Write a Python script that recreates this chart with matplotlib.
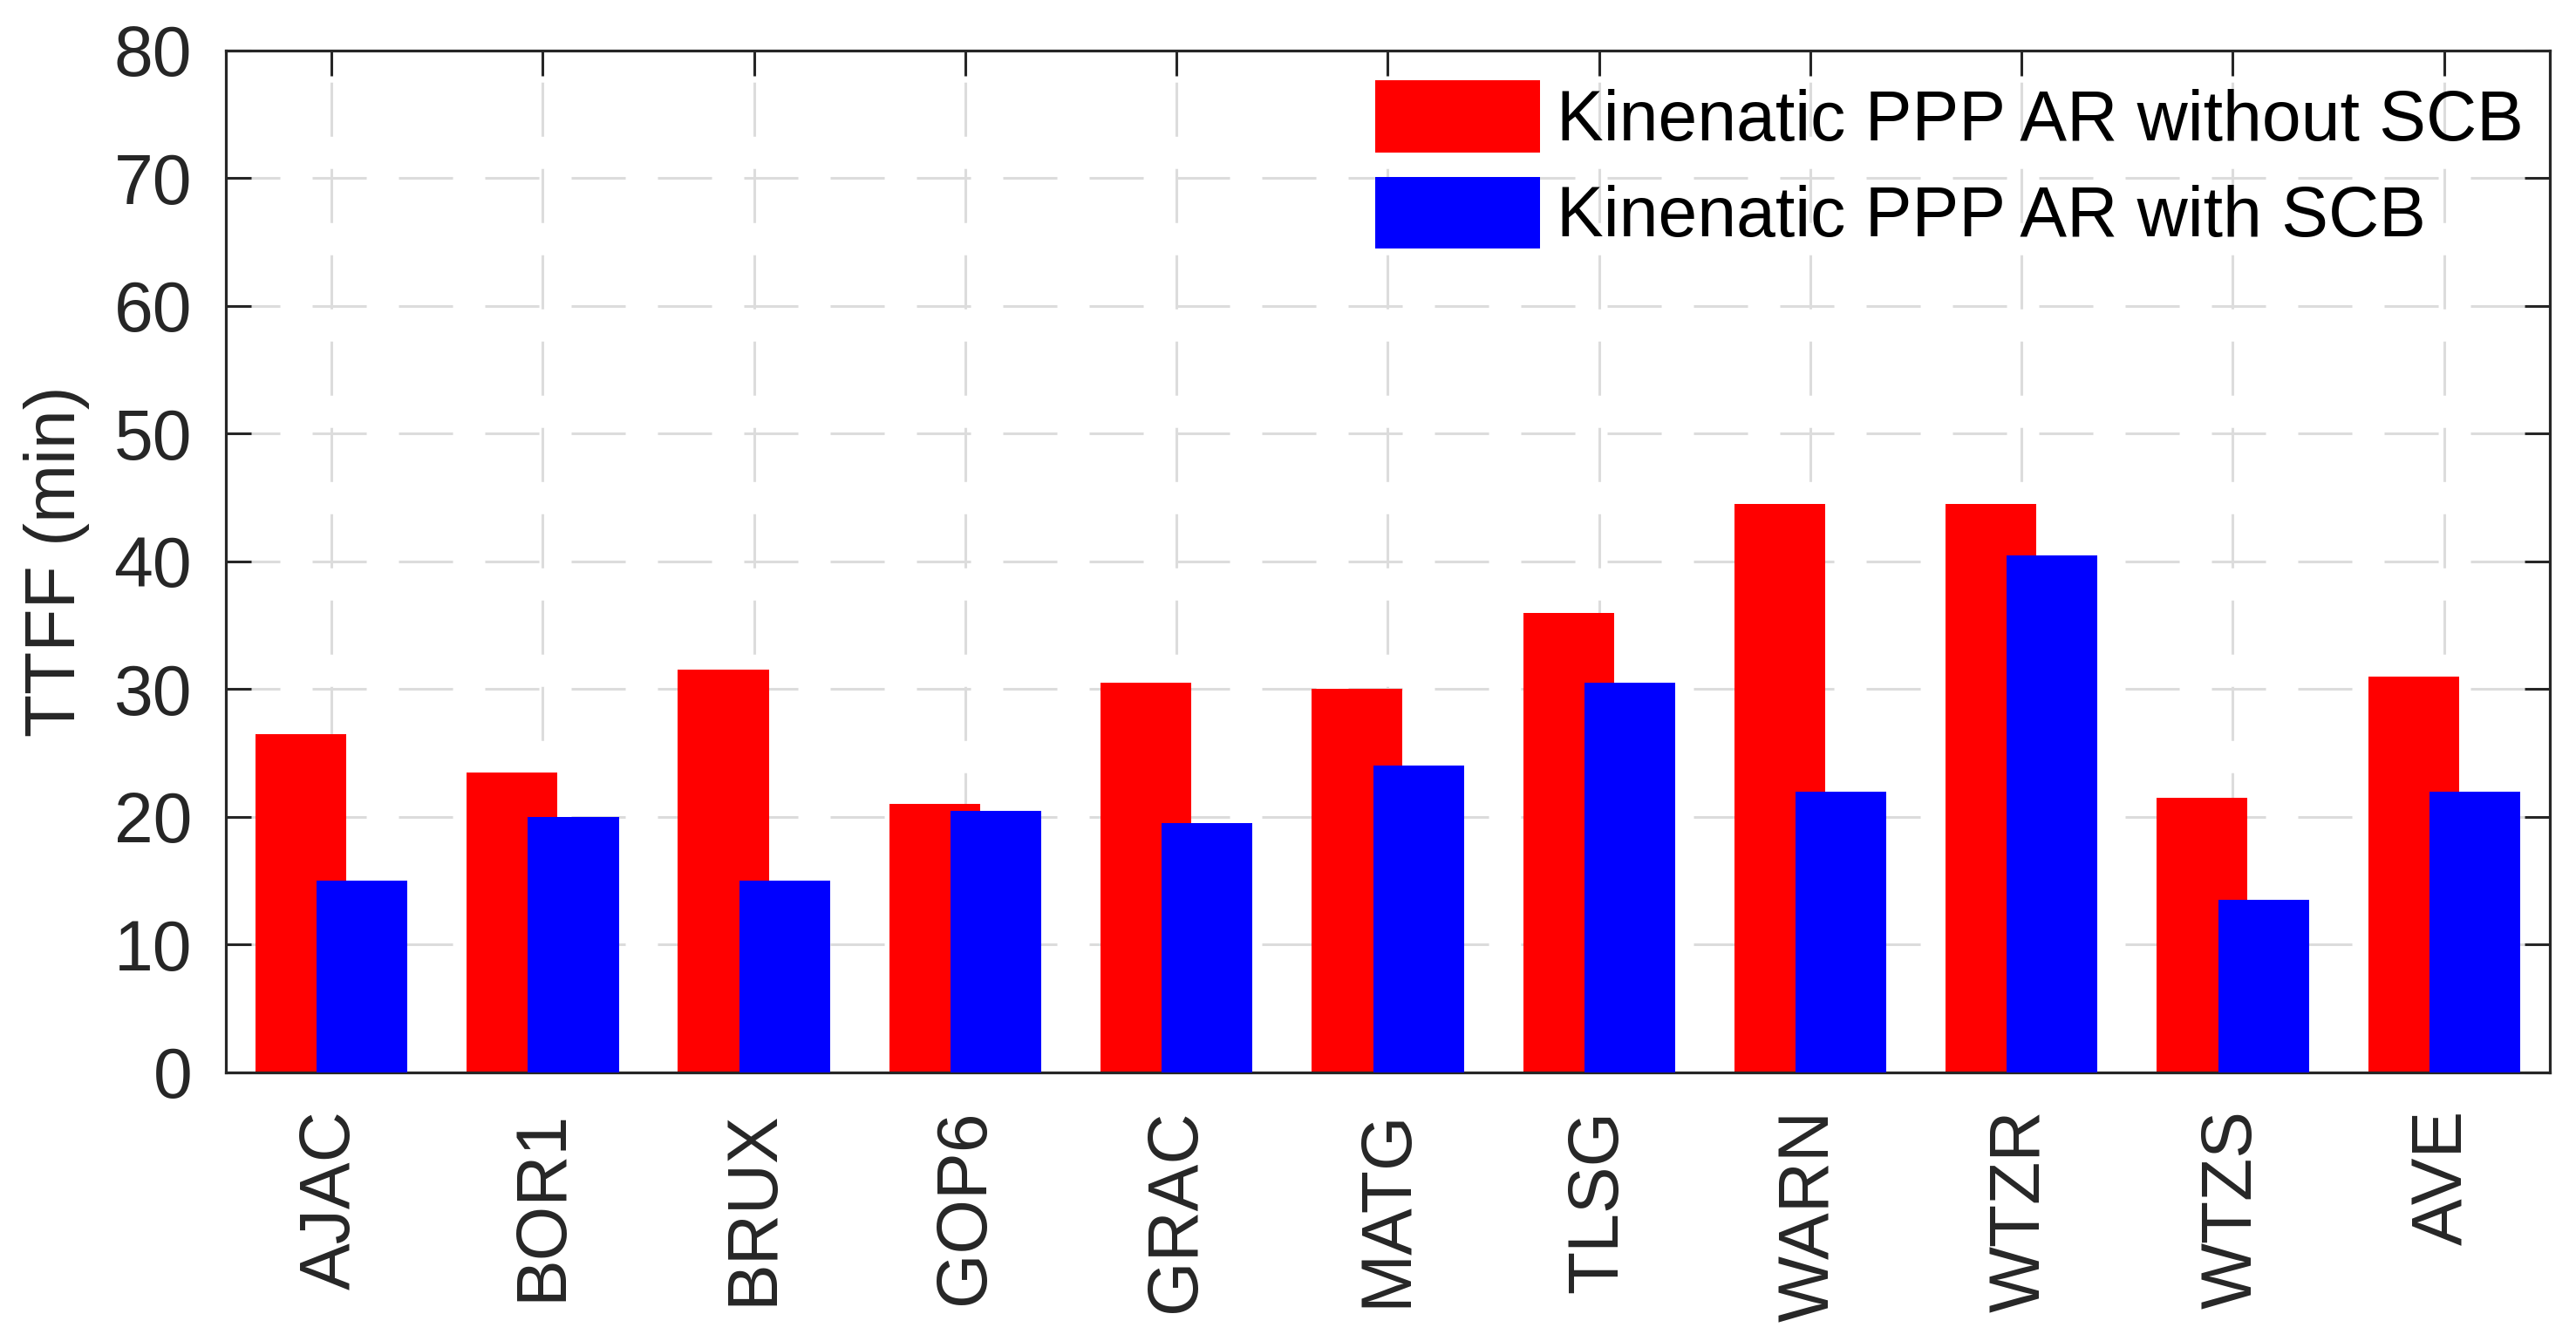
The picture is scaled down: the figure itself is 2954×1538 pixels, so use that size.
import numpy as np
import matplotlib
matplotlib.use('Agg')
import matplotlib.pyplot as plt

plt.rcParams['font.family'] = ['Liberation Sans', 'DejaVu Sans']

stations = ['AJAC', 'BOR1', 'BRUX', 'GOP6', 'GRAC', 'MATG', 'TLSG', 'WARN', 'WTZR', 'WTZS', 'AVE']
ttff_without = [26.5, 23.5, 31.5, 21.0, 30.5, 30.0, 36.0, 44.5, 44.5, 21.5, 31.0]
ttff_with = [15.0, 20.0, 15.0, 20.5, 19.5, 24.0, 30.5, 22.0, 40.5, 13.5, 22.0]
labels = ['Kinenatic PPP AR without SCB', 'Kinenatic PPP AR with SCB']

dark = '#262626'
fs = 58

fig = plt.figure(figsize=(29.54, 15.38), dpi=100)
ax = fig.add_axes([0.0877, 0.2003, 0.9021, 0.762])

x = np.arange(1, len(stations) + 1)
w = 0.43
ax.bar(x - 0.145, ttff_without, width=w, color='#ff0000', label=labels[0], zorder=2)
ax.bar(x + 0.145, ttff_with, width=w, color='#0000ff', label=labels[1], zorder=3)

ax.set_xlim(0.5, len(stations) + 0.5)
ax.set_ylim(0, 80)
ax.set_yticks(np.arange(0, 81, 10))
ax.set_xticks(x)
ax.set_xticklabels(stations, rotation=90)

ax.set_axisbelow(True)
ax.yaxis.grid(True, color='#dcdcdc', linewidth=2.2, linestyle=(0, (20.3, 12.1)))
ax.xaxis.grid(True, color='#dcdcdc', linewidth=2.2, linestyle=(5, (20.3, 12.1)))

for s in ax.spines.values():
    s.set_linewidth(2.3)
    s.set_color(dark)

ax.tick_params(axis='both', direction='in', length=21, width=2.2, colors=dark,
               labelsize=fs, top=True, right=True)
ax.tick_params(axis='y', pad=28)
ax.tick_params(axis='x', pad=31)

ax.set_ylabel('TTFF (min)', fontsize=fs, color=dark, labelpad=20)

leg = ax.legend(loc='upper left', bbox_to_anchor=(0.5339, 0.940), bbox_transform=fig.transFigure,
                frameon=False, fontsize=58, handlelength=2.35, handleheight=1.2,
                handletextpad=0.23, labelspacing=0.31, borderpad=0, borderaxespad=0)
for t in leg.get_texts():
    t.set_color('black')

fig.savefig('out.png', dpi=100)
